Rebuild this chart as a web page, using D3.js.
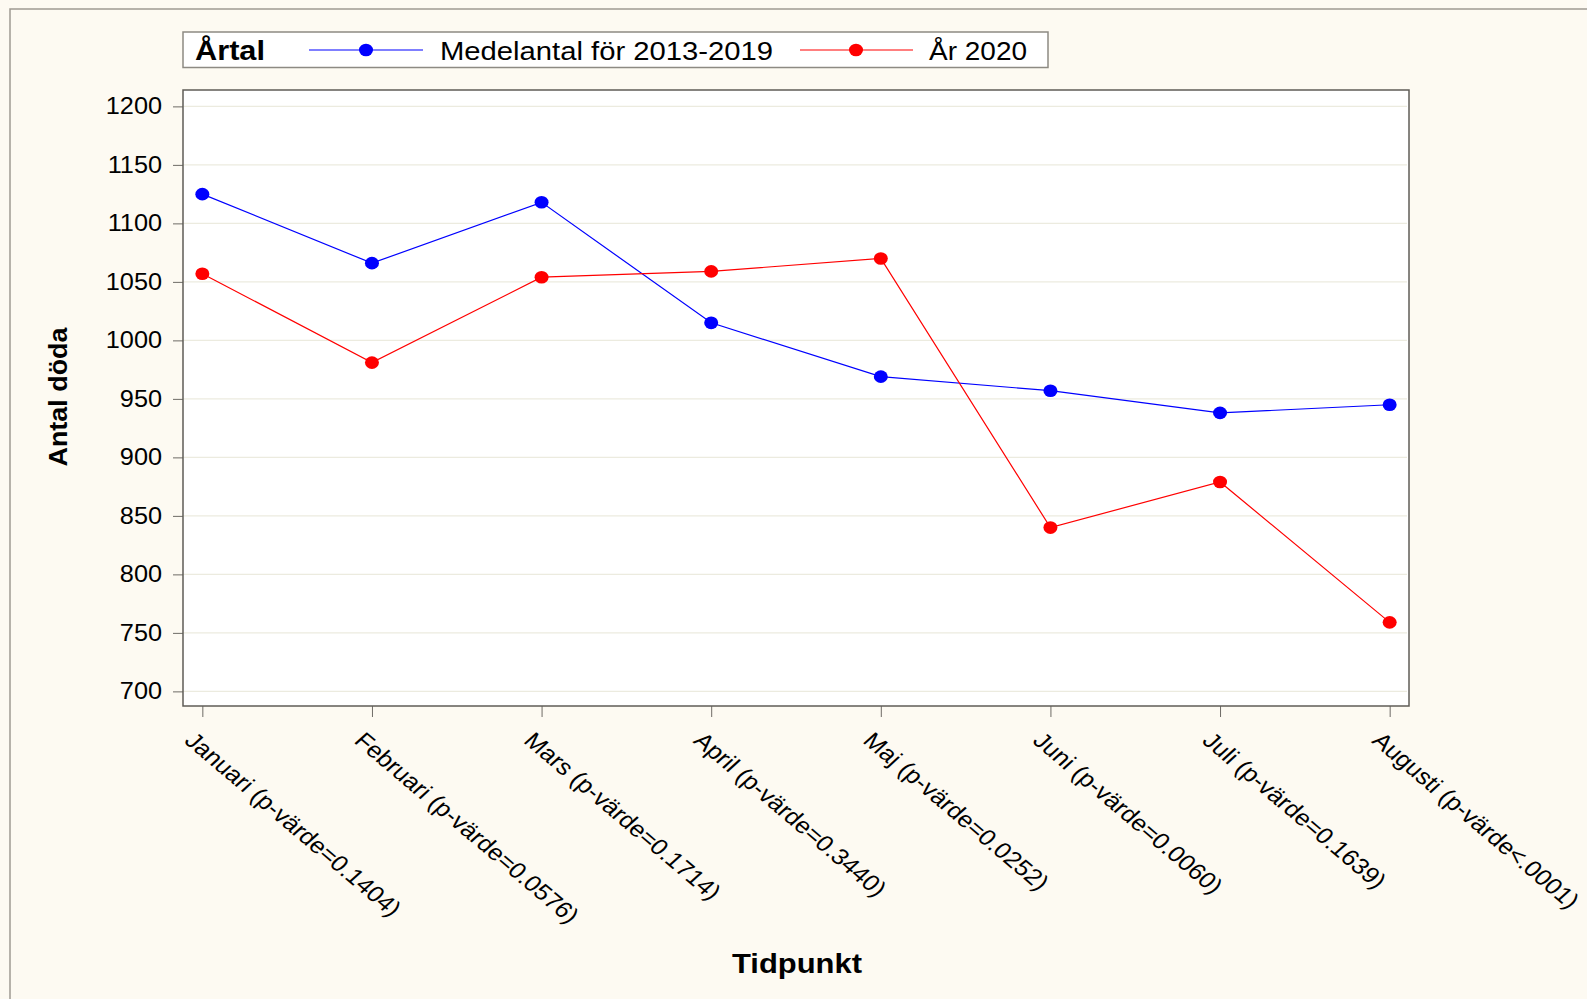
<!DOCTYPE html>
<meta charset="utf-8">
<head>
    <script type="text/javascript" src="https://d3js.org/d3.v7.min.js"></script>
    <style>
        body { margin: 0; background: #fdfaf2; }
        text { font-family: "Liberation Sans", Arial, sans-serif; fill: #000; }
    </style>
    <title>Antal döda per månad</title>
</head>
<body>
<script>
    // data
    var months = ["Januari (p-värde=0.1404)", "Februari (p-värde=0.0576)", "Mars (p-värde=0.1714)",
        "April (p-värde=0.3440)", "Maj (p-värde=0.0252)", "Juni (p-värde=0.0060)",
        "Juli (p-värde=0.1639)", "Augusti (p-värde<.0001)"];
    var medel = [1125, 1066, 1118, 1015, 969, 957, 938, 945];
    var ar2020 = [1057, 981, 1054, 1059, 1070, 840, 879, 759];
    var yTicks = [700, 750, 800, 850, 900, 950, 1000, 1050, 1100, 1150, 1200];
    var seriesNames = ["Medelantal för 2013-2019", "År 2020"];
    var seriesColors = ["#0000ff", "#ff0000"];

    var W = 1587, H = 999;
    var plot = {left: 183, right: 1409, top: 90, bottom: 706};
    var sx = 1.1;    // the picture is a bit wider than the text would be
    var sxLab = 1.14;

    var svg = d3.select("body").append("svg")
        .attr("width", W)
        .attr("height", H);

    svg.append("rect")
        .attr("width", W).attr("height", H)
        .attr("fill", "#fdfaf2");

    // outer frame (only top and left show)
    svg.append("rect")
        .attr("x", 10).attr("y", 9)
        .attr("width", W + 20).attr("height", H + 20)
        .attr("fill", "none")
        .attr("stroke", "#9e9a92")
        .attr("stroke-width", 1.5);

    var x = d3.scalePoint()
        .domain(months)
        .range([plot.left, plot.right])
        .padding(0.114);

    var y = d3.scaleLinear()
        .domain([687.5, 1214])
        .range([plot.bottom, plot.top]);

    svg.append("rect")
        .attr("x", plot.left).attr("y", plot.top)
        .attr("width", plot.right - plot.left)
        .attr("height", plot.bottom - plot.top)
        .attr("fill", "#ffffff");

    // grid
    svg.append("g").selectAll("line")
        .data(yTicks)
        .enter().append("line")
        .attr("x1", plot.left).attr("x2", plot.right - 2)
        .attr("y1", d => y(d)).attr("y2", d => y(d))
        .attr("stroke", "#ecebdf")
        .attr("stroke-width", 1.2);

    // y axis
    var yAxis = svg.append("g")
        .attr("transform", "translate(" + plot.left + ",0)")
        .call(d3.axisLeft(y).tickValues(yTicks).tickFormat(d3.format("d"))
            .tickSize(10).tickPadding(11).tickSizeOuter(0));
    yAxis.select(".domain").remove();
    yAxis.selectAll(".tick line").attr("stroke", "#6e6b66");
    yAxis.selectAll(".tick text")
        .attr("font-size", 23)
        .attr("font-family", "Liberation Sans, Arial, sans-serif")
        .attr("x", -21 / sx)
        .attr("transform", "scale(" + sx + ",1)");

    // x axis ticks
    var xAxis = svg.append("g")
        .attr("transform", "translate(0," + plot.bottom + ")")
        .call(d3.axisBottom(x).tickSize(11).tickSizeOuter(0).tickFormat(""));
    xAxis.select(".domain").remove();
    xAxis.selectAll(".tick line").attr("stroke", "#6e6b66");

    svg.append("g").selectAll("text")
        .data(months)
        .enter().append("text")
        .attr("font-size", 22.5)
        .attr("transform", d => "translate(" + (x(d) - 19) + ",742) scale(" + sxLab + ",1) rotate(44)")
        .text(d => d);

    // plot frame
    svg.append("rect")
        .attr("x", plot.left).attr("y", plot.top)
        .attr("width", plot.right - plot.left)
        .attr("height", plot.bottom - plot.top)
        .attr("fill", "none")
        .attr("stroke", "#5f5c57")
        .attr("stroke-width", 1.5);

    // series
    var series = [medel, ar2020];
    var line = d3.line()
        .x((d, i) => x(months[i]))
        .y(d => y(d));

    series.forEach(function(s, k) {
        svg.append("path")
            .datum(s)
            .attr("d", line)
            .attr("fill", "none")
            .attr("stroke", seriesColors[k])
            .attr("stroke-width", 1.2);
        svg.append("g").selectAll("ellipse")
            .data(s)
            .enter().append("ellipse")
            .attr("cx", (d, i) => x(months[i]))
            .attr("cy", d => y(d))
            .attr("rx", 7)
            .attr("ry", 6.3)
            .attr("fill", seriesColors[k]);
    });

    // legend
    var legend = svg.append("g").attr("id", "legend");
    legend.append("rect")
        .attr("x", 183).attr("y", 32)
        .attr("width", 865).attr("height", 35.5)
        .attr("fill", "#ffffff")
        .attr("stroke", "#8d8a83")
        .attr("stroke-width", 1.5);
    legend.append("text")
        .attr("x", 195).attr("y", 59.5)
        .attr("font-size", 28).attr("font-weight", "bold")
        .attr("textLength", 70).attr("lengthAdjust", "spacingAndGlyphs")
        .text("Årtal");

    var legItems = [
        {line: [309, 423], dot: 366, tx: 440, tl: 333},
        {line: [800, 913], dot: 856, tx: 929, tl: 98}
    ];
    legItems.forEach(function(it, k) {
        legend.append("line")
            .attr("x1", it.line[0]).attr("x2", it.line[1])
            .attr("y1", 50).attr("y2", 50)
            .attr("stroke", seriesColors[k])
            .attr("stroke-width", 1.2);
        legend.append("ellipse")
            .attr("cx", it.dot).attr("cy", 50)
            .attr("rx", 7).attr("ry", 6.3)
            .attr("fill", seriesColors[k]);
        legend.append("text")
            .attr("x", it.tx).attr("y", 59.5)
            .attr("font-size", 25)
            .attr("textLength", it.tl).attr("lengthAdjust", "spacingAndGlyphs")
            .text(seriesNames[k]);
    });

    // axis titles
    svg.append("text")
        .attr("transform", "translate(67,397) rotate(-90)")
        .attr("text-anchor", "middle")
        .attr("font-size", 26).attr("font-weight", "bold")
        .attr("textLength", 139).attr("lengthAdjust", "spacingAndGlyphs")
        .text("Antal döda");

    svg.append("text")
        .attr("x", 797).attr("y", 973)
        .attr("text-anchor", "middle")
        .attr("font-size", 28).attr("font-weight", "bold")
        .attr("textLength", 130).attr("lengthAdjust", "spacingAndGlyphs")
        .text("Tidpunkt");
</script>
</body>
</html>
